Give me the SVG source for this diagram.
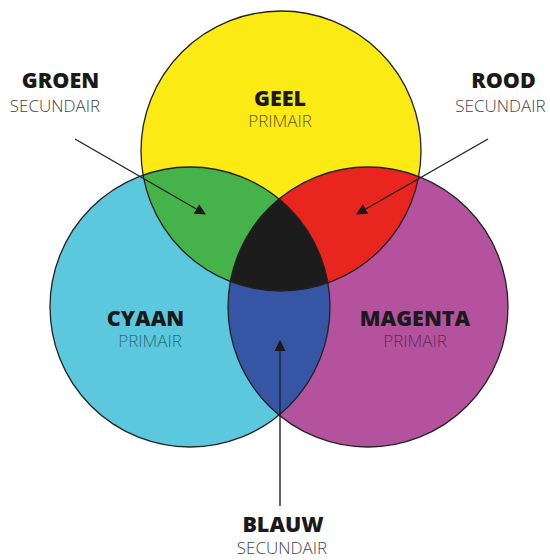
<svg xmlns="http://www.w3.org/2000/svg" width="550" height="560" viewBox="0 0 550 560">
<style>
.t{font-family:"Open Sans","Noto Sans",sans-serif;font-weight:800;font-size:21.5px;fill:#1a1a1a;text-anchor:middle}
.s{font-family:"Open Sans","Noto Sans",sans-serif;font-weight:300;font-size:17px;text-anchor:middle}
.edge{stroke:#222;stroke-width:1.4;fill:none;marker-end:url(#ah)}
.ring{fill:none;stroke:#222;stroke-width:1.3}
</style>
<defs>
<clipPath id="cY"><circle cx="281" cy="151" r="140"/></clipPath>
<clipPath id="cC"><circle cx="190" cy="307" r="140"/></clipPath>
<clipPath id="cM"><circle cx="368" cy="307" r="140"/></clipPath>
<marker id="ah" viewBox="0 0 10 10" refX="9" refY="5" markerWidth="11" markerHeight="11" markerUnits="userSpaceOnUse" orient="auto">
<path d="M0,0 L10,5 L0,10 z" fill="#1a1a1a"/>
</marker>
</defs>
<rect width="550" height="560" fill="#fff"/>
<g id="geel">
<circle cx="281" cy="151" r="140" fill="#FBEA14"/>
</g>
<g id="cyaan">
<circle cx="190" cy="307" r="140" fill="#5BC8DE"/>
</g>
<g id="magenta">
<circle cx="368" cy="307" r="140" fill="#B5529E"/>
</g>
<g id="groen">
<circle cx="190" cy="307" r="140" fill="#46B34A" clip-path="url(#cY)"/>
</g>
<g id="rood">
<circle cx="368" cy="307" r="140" fill="#E8251F" clip-path="url(#cY)"/>
</g>
<g id="blauw">
<circle cx="368" cy="307" r="140" fill="#3655A5" clip-path="url(#cC)"/>
</g>
<g id="zwart" clip-path="url(#cY)">
<g clip-path="url(#cC)">
<circle cx="368" cy="307" r="140" fill="#1c1c1c"/>
</g>
</g>
<g id="outlines">
<circle class="ring" cx="281" cy="151" r="140"/>
<circle class="ring" cx="190" cy="307" r="140"/>
<circle class="ring" cx="368" cy="307" r="140"/>
</g>
<g id="labels">
<text class="t" x="280" y="106">GEEL</text>
<text class="s" x="280" y="127" fill="#5c5620">PRIMAIR</text>
<text class="t" x="145.5" y="326">CYAAN</text>
<text class="s" x="150" y="347" fill="#2f6a78">PRIMAIR</text>
<text class="t" x="415" y="326">MAGENTA</text>
<text class="s" x="415" y="347" fill="#5e2c58">PRIMAIR</text>
<text class="t" x="60.5" y="88">GROEN</text>
<text class="s" x="55" y="112" fill="#444">SECUNDAIR</text>
<text class="t" x="503.5" y="88">ROOD</text>
<text class="s" x="500.5" y="112" fill="#444">SECUNDAIR</text>
<text class="t" x="283" y="532">BLAUW</text>
<text class="s" x="282" y="554" fill="#444">SECUNDAIR</text>
</g>
<g id="connectors">
<path class="edge" d="M75,139 L205,214"/>
<path class="edge" d="M488,139 L357,214"/>
<path class="edge" d="M280,506 L280,341"/>
</g>
</svg>
